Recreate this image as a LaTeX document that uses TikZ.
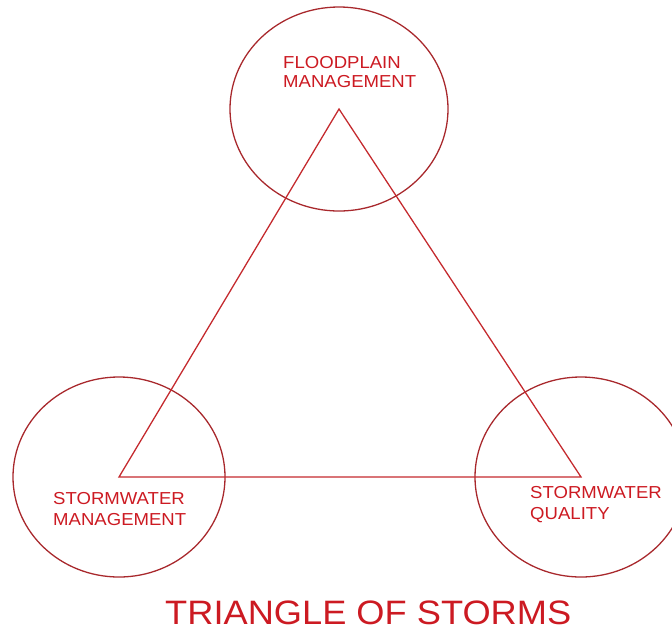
\documentclass[tikz,border=0pt]{standalone}
\usepackage{fontspec}
\setmainfont{Liberation Sans}[FakeStretch=1.07]
\usepackage{tikz}
\usetikzlibrary{shapes.geometric, positioning}
\definecolor{tsText}{HTML}{CC1A22}
\definecolor{tsRing}{HTML}{A8282C}
\definecolor{tsLine}{HTML}{C42A2E}
\tikzset{
  tsring/.style={draw=tsRing, line width=1.1pt},
  tsedge/.style={draw=tsLine, line width=1.1pt},
  tslabel/.style={text=tsText, inner sep=0pt, anchor=north west, align=left,
                  font=\fontsize{14.8}{18}\selectfont},
}

\begin{document}
\begin{tikzpicture}[x=0.03cm, y=-0.03cm]
  \useasboundingbox (0,0) rectangle (672,633);
  % corners of the triangle
  \coordinate (flood) at (339,109);
  \coordinate (swm) at (119,477);
  \coordinate (swq) at (581,477);
  % rings round the corners
  \draw[tsring] (flood) ellipse[x radius=109, y radius=102];
  \draw[tsring] (swm) ellipse[x radius=106, y radius=100];
  \draw[tsring] (swq) ellipse[x radius=106, y radius=100];
  \draw[tsedge] (flood) -- (swm) -- (swq) -- cycle;
  % labels
  \node[tslabel, font=\fontsize{14.8}{16.3}\selectfont] (lflood) at (283,56) {FLOODPLAIN\\MANAGEMENT};
  \node[tslabel] (lswm) at (53,492) {STORMWATER\\MANAGEMENT};
  \node[tslabel] (lswq) at (530,486) {STORMWATER\\QUALITY};
  \node[tslabel, font=\fontsize{28.9}{34}\selectfont] (title) at (165,601) {TRIANGLE OF STORMS};
\end{tikzpicture}
\end{document}
